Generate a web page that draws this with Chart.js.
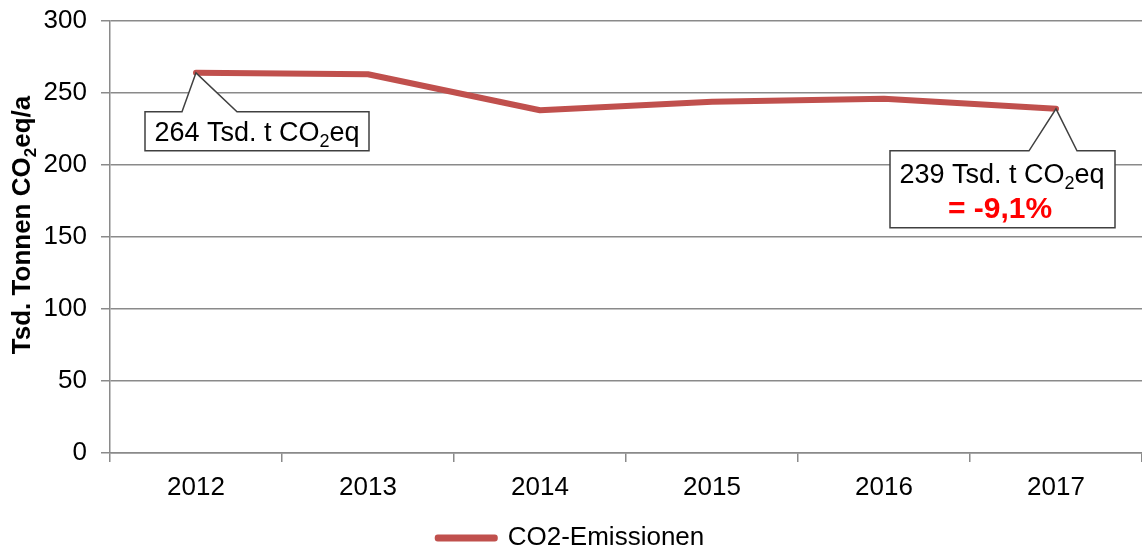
<!DOCTYPE html>
<html>
<head>
<meta charset="utf-8">
<script src="https://cdn.jsdelivr.net/npm/chart.js@4/dist/chart.umd.min.js"></script>
<style>
html,body{margin:0;padding:0;background:#fff;}
#wrap{width:1142px;height:549px;position:relative;}
</style>
</head>
<body>
<div id="wrap"><canvas id="c" width="1142" height="549"></canvas></div>
<script>
const years = ['2012','2013','2014','2015','2016','2017'];
const emissions = [264, 263, 238, 244, 246, 239];
const seriesName = 'CO2-Emissionen';
const yTicks = [0, 50, 100, 150, 200, 250, 300];
const yTitleRuns = [['Tsd. Tonnen CO', false], ['2', true], ['eq/a', false]];
const callout1Runs = [['264 Tsd. t CO', false], ['2', true], ['eq', false]];
const callout2Runs = [['239 Tsd. t CO', false], ['2', true], ['eq', false]];
const callout2Line2 = '= -9,1%';

const FONT = '"Liberation Sans", Arial, sans-serif';
const RED = '#C0504D';
const GRID = '#8a8a8a';

function drawRuns(ctx, runs, cx, baseY, size, weight) {
  const subSize = Math.round(size * 0.65);
  let total = 0;
  const widths = runs.map(([t, sub]) => {
    ctx.font = `${weight} ${sub ? subSize : size}px ${FONT}`;
    const w = ctx.measureText(t).width;
    total += w;
    return w;
  });
  let x = cx - total / 2;
  ctx.textAlign = 'left';
  ctx.textBaseline = 'alphabetic';
  runs.forEach(([t, sub], i) => {
    ctx.font = `${weight} ${sub ? subSize : size}px ${FONT}`;
    ctx.fillText(t, x, baseY + (sub ? size * 0.22 : 0));
    x += widths[i];
  });
}

function calloutPath(ctx, px, py, l, r, t, b, bl, br) {
  ctx.beginPath();
  ctx.moveTo(px + l, py + t);
  ctx.lineTo(px + bl, py + t);
  ctx.lineTo(px, py);
  ctx.lineTo(px + br, py + t);
  ctx.lineTo(px + r, py + t);
  ctx.lineTo(px + r, py + b);
  ctx.lineTo(px + l, py + b);
  ctx.closePath();
  ctx.fillStyle = '#ffffff';
  ctx.fill();
  ctx.strokeStyle = '#404040';
  ctx.lineWidth = 1.5;
  ctx.stroke();
}

const annotPlugin = {
  id: 'annot',
  afterDatasetsDraw(chart) {
    const ctx = chart.ctx;
    const meta = chart.getDatasetMeta(0);
    ctx.save();
    const p0 = meta.data[0];
    calloutPath(ctx, p0.x, p0.y, -51, 173, 39, 78, -14, 41);
    ctx.fillStyle = '#000';
    drawRuns(ctx, callout1Runs, p0.x + 61, p0.y + 68, 27, 'normal');
    const p5 = meta.data[5];
    calloutPath(ctx, p5.x, p5.y, -166, 59, 42, 119, -27, 21);
    ctx.fillStyle = '#000';
    drawRuns(ctx, callout2Runs, p5.x - 54, p5.y + 74, 27, 'normal');
    ctx.fillStyle = '#FF0000';
    drawRuns(ctx, [[callout2Line2, false]], p5.x - 56, p5.y + 109, 30, 'bold');
    ctx.restore();
  },
  afterDraw(chart) {
    const ctx = chart.ctx;
    const area = chart.chartArea;
    ctx.save();
    ctx.translate(30, (area.top + area.bottom) / 2 - 12);
    ctx.rotate(-Math.PI / 2);
    ctx.fillStyle = '#000';
    drawRuns(ctx, yTitleRuns, 0, 0, 26, 'bold');
    ctx.restore();
  }
};

new Chart(document.getElementById('c'), {
  type: 'line',
  data: {
    labels: years,
    datasets: [{
      label: seriesName,
      data: emissions,
      borderColor: RED,
      backgroundColor: RED,
      borderWidth: 6,
      pointRadius: 0,
      pointHoverRadius: 0,
      tension: 0,
      borderJoinStyle: 'round',
      borderCapStyle: 'round'
    }]
  },
  options: {
    responsive: false,
    animation: false,
    devicePixelRatio: 1,
    layout: { padding: { top: 21, right: 0, left: 0, bottom: -12 } },
    plugins: {
      tooltip: { enabled: false },
      legend: {
        position: 'bottom',
        labels: {
          padding: 1,
          boxWidth: 57,
          boxHeight: 1,
          color: '#000',
          font: { family: FONT, size: 26 },
          generateLabels(chart) {
            return chart.data.datasets.map((ds, i) => ({
              text: ds.label,
              fillStyle: RED,
              strokeStyle: RED,
              lineWidth: 6,
              lineJoin: 'round',
              lineCap: 'round',
              hidden: false,
              datasetIndex: i,
              fontColor: '#000'
            }));
          }
        }
      }
    },
    scales: {
      x: {
        type: 'category',
        offset: true,
        grid: {
          offset: true,
          drawOnChartArea: false,
          drawTicks: true,
          tickLength: 9,
          color: GRID,
          lineWidth: 1.5
        },
        border: { display: true, color: GRID, width: 1.5 },
        ticks: {
          padding: 10,
          color: '#000',
          font: { family: FONT, size: 26 },
          maxRotation: 0
        },
        afterFit(s) { s.height = 71; }
      },
      y: {
        min: 0,
        max: 300,
        afterBuildTicks(s) { s.ticks = yTicks.map(v => ({ value: v })); },
        grid: {
          color: GRID,
          lineWidth: 1.5,
          drawTicks: true,
          tickLength: 9
        },
        border: { display: true, color: GRID, width: 1.5 },
        ticks: {
          padding: 14,
          color: '#000',
          font: { family: FONT, size: 26 }
        },
        afterFit(s) { s.width = 110; s.paddingTop = 0; s.paddingBottom = 0; }
      }
    }
  },
  plugins: [annotPlugin]
});
</script>
</body>
</html>
